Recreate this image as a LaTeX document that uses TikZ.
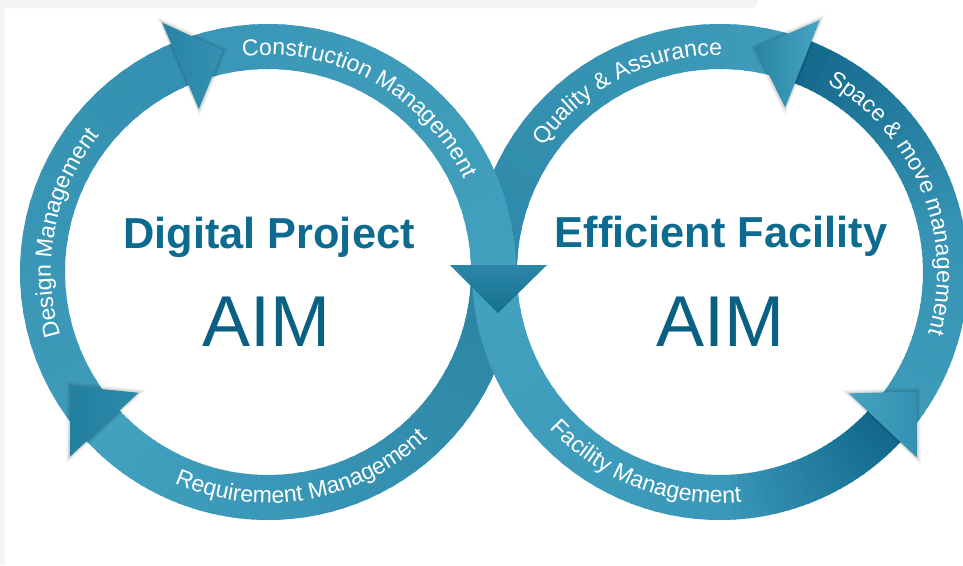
\documentclass[tikz,border=0pt]{standalone}
\usepackage{fontspec}
\setmainfont{Liberation Sans}
\usetikzlibrary{calc,decorations.text}

\definecolor{titleblue}{HTML}{0D6B90}
\definecolor{aimblue}{HTML}{0A6082}
\definecolor{bgstrip}{HTML}{F4F4F4}
% band colours
\definecolor{lAs}{HTML}{3E9BBA}\definecolor{lAe}{HTML}{3490B0}
\definecolor{lBs}{HTML}{3A96B6}\definecolor{lBe}{HTML}{41A0BE}
\definecolor{lCs}{HTML}{2A83A3}\definecolor{lCm}{HTML}{3A97B7}\definecolor{lCe}{HTML}{43A2C0}
\definecolor{rAs}{HTML}{3F9CBB}\definecolor{rAe}{HTML}{2E89A9}
\definecolor{rBs}{HTML}{44A2C0}\definecolor{rBm}{HTML}{3A98B8}\definecolor{rBe}{HTML}{10678A}
\definecolor{rCs}{HTML}{3F9CBB}\definecolor{rCm}{HTML}{3693B3}\definecolor{rCe}{HTML}{14698C}
% arrowhead colours
\definecolor{hAa}{HTML}{2784A4}\definecolor{hAb}{HTML}{3591B1}
\definecolor{hBa}{HTML}{2C88A8}\definecolor{hBb}{HTML}{15708F}
\definecolor{hCa}{HTML}{22809F}\definecolor{hCb}{HTML}{2E8AAA}
\definecolor{hDa}{HTML}{2A85A5}\definecolor{hDb}{HTML}{47A4C2}
\definecolor{hEa}{HTML}{45A3C1}\definecolor{hEb}{HTML}{3591B1}

\newcommand{\bandtext}{\color{white}\fontsize{17.3}{19}\selectfont}

% annular segment with colour running along the arc
\newcommand{\ringseg}[6]{%
  \foreach \k in {0,...,29}{%
    \pgfmathsetmacro\aa{#3+(#4-#3)*\k/30}%
    \pgfmathsetmacro\bb{#3+(#4-#3)*(\k+1.35)/30}%
    \pgfmathtruncatemacro\pp{100*\k/29}%
    \fill[fill={#6!\pp!#5}] ($(#1,#2)+(\aa:248)$) arc[start angle=\aa, end angle=\bb, radius=248]
      -- ($(#1,#2)+(\bb:203)$) arc[start angle=\bb, end angle=\aa, radius=203] -- cycle;
  }}

% soft shadow around a triangle given by three coordinate names
\newcommand{\softshadow}[3]{%
  \coordinate (sg) at (barycentric cs:#1=1,#2=1,#3=1);
  \foreach \s/\o in {1.16/0.04,1.11/0.05,1.06/0.07}{%
    \fill[black,opacity=\o] ($(sg)!\s!(#1)$) -- ($(sg)!\s!(#2)$) -- ($(sg)!\s!(#3)$) -- cycle;}}

\begin{document}
\begin{tikzpicture}[x=0.75pt,y=0.75pt,
  titlestyle/.style={anchor=base,font=\bfseries\fontsize{32.5}{36}\selectfont,text=titleblue},
  aimstyle/.style={anchor=base,font=\fontsize{54}{60}\selectfont,text=aimblue}]
\useasboundingbox (0,0) rectangle (963,-565);
\clip (0,0) rectangle (963,-565);
\fill[white] (0,0) rectangle (963,-565);
\fill[bgstrip] (0,0) -- (758,0) -- (755,-8) -- (5,-8) -- (5,-565) -- (0,-565) -- cycle;

\coordinate (C1) at (268,-272);
\coordinate (C2) at (720,-272);

% ---- ring segments (order gives the over/under at the crossing)
\ringseg{720}{-272}{67}{179}{rAs}{rAe}     % Quality & Assurance
\ringseg{268}{-272}{2}{-90}{lCs}{lCm}      % Requirement (1)
\ringseg{268}{-272}{-90}{-138}{lCm}{lCe}   % Requirement (2)
\ringseg{268}{-272}{224}{112}{lAs}{lAe}    % Design
\ringseg{720}{-272}{-44}{10}{rCs}{rCm}     % Space (1)
\ringseg{720}{-272}{10}{69}{rCm}{rCe}      % Space (2)
\ringseg{268}{-272}{113}{1}{lBs}{lBe}      % Construction
\ringseg{720}{-272}{178}{270}{rBs}{rBm}    % Facility (1)
\ringseg{720}{-272}{270}{318}{rBm}{rBe}    % Facility (2)

% ---- arrowheads
\coordinate (a1p) at ($(C1)+(113:177)$);
\coordinate (a1q) at ($(C1)+(113:271)$);
\coordinate (a1t) at ($(C1)+(101.5:226)$);
\coordinate (a3p) at ($(C1)+(223:177)$);
\coordinate (a3q) at ($(C1)+(223:271)$);
\coordinate (a3t) at ($(C1)+(210:228)$);
\coordinate (a4p) at ($(C2)+(68.4:177)$);
\coordinate (a4q) at ($(C2)+(68.4:271)$);
\coordinate (a4t) at ($(C2)+(81:227)$);
\coordinate (a5p) at ($(C2)+(-43.3:177)$);
\coordinate (a5q) at ($(C2)+(-43.3:271)$);
\coordinate (a5t) at ($(C2)+(-31.3:230)$);
\coordinate (a2p) at (450,-265);
\coordinate (a2q) at (547,-265);
\coordinate (a2t) at (498,-313);

\softshadow{a1p}{a1q}{a1t}
\shade[left color=hAa,right color=hAb] (a1p) -- (a1q) -- (a1t) -- cycle;
\softshadow{a3p}{a3q}{a3t}
\shade[left color=hCa,right color=hCb] (a3p) -- (a3q) -- (a3t) -- cycle;
\softshadow{a4p}{a4q}{a4t}
\shade[left color=hDa,right color=hDb] (a4p) -- (a4q) -- (a4t) -- cycle;
\softshadow{a5p}{a5q}{a5t}
\shade[left color=hEa,right color=hEb] (a5p) -- (a5q) -- (a5t) -- cycle;
\shade[top color=hBa,bottom color=hBb] (a2p) -- (a2q) -- (a2t) -- cycle;

% ---- band labels
\path[decorate,decoration={text along path,text align=center,
  text={|\bandtext|Construction Management}}]
  ($(C1)+(116:217)$) arc[start angle=116,end angle=6,radius=217];
\path[decorate,decoration={text along path,text align=center,
  text={|\bandtext|Design Management}}]
  ($(C1)+(224:217)$) arc[start angle=224,end angle=114,radius=217];
\path[decorate,decoration={text along path,text align=center,
  text={|\bandtext|Requirement Management}}]
  ($(C1)+(225:231)$) arc[start angle=225,end angle=335,radius=231];
\path[decorate,decoration={text along path,text align=center,
  text={|\bandtext|Quality {\&} Assurance}}]
  ($(C2)+(172:217)$) arc[start angle=172,end angle=62,radius=217];
\path[decorate,decoration={text along path,text align=center,
  text={|\bandtext|Space {\&} move management}}]
  ($(C2)+(80:217)$) arc[start angle=80,end angle=-36,radius=217];
\path[decorate,decoration={text along path,text align=center,
  text={|\bandtext|Facility Management}}]
  ($(C2)+(194:231)$) arc[start angle=194,end angle=304,radius=231];

% ---- titles
\node[titlestyle] (t1) at (269,-248) {Digital Project};
\node[aimstyle] (aim1) at (266,-346) {AIM};
\node[titlestyle] (t2) at (721,-247) {Efficient Facility};
\node[aimstyle] (aim2) at (720,-346) {AIM};
\end{tikzpicture}
\end{document}
